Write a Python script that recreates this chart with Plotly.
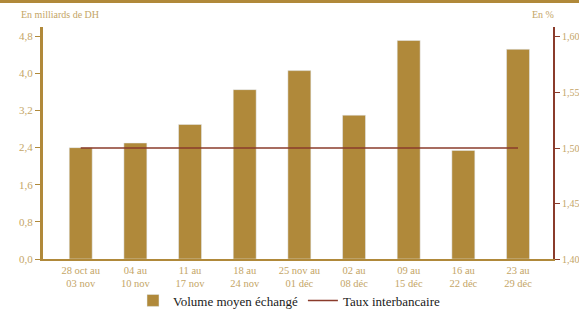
import plotly.graph_objects as go

categories = ["28 oct au<br>03 nov", "04 au<br>10 nov", "11 au<br>17 nov", "18 au<br>24 nov",
              "25 nov au<br>01 déc", "02 au<br>08 déc", "09 au<br>15 déc", "16 au<br>22 déc",
              "23 au<br>29 déc"]
volume = [2.40, 2.50, 2.90, 3.65, 4.06, 3.10, 4.71, 2.34, 4.52]
taux = [1.50, 1.50, 1.50, 1.50, 1.50, 1.50, 1.50, 1.50, 1.50]
left_ticks = [0.0, 0.8, 1.6, 2.4, 3.2, 4.0, 4.8]
left_labels = ["0,0", "0,8", "1,6", "2,4", "3,2", "4,0", "4,8"]
right_ticks = [1.40, 1.45, 1.50, 1.55, 1.60]
right_labels = ["1,40", "1,45", "1,50", "1,55", "1,60"]

GOLD = "#B0893A"
TXT = "#C4A566"
BROWN = "#8A3B2B"
FONT = "Liberation Serif, Times New Roman, serif"

x = list(range(len(categories)))

fig = go.Figure()
fig.add_trace(go.Bar(x=x, y=volume, name="Volume moyen échangé", marker_color=GOLD,
                     width=0.42, yaxis="y"))
fig.add_trace(go.Scatter(x=x, y=taux, name="Taux interbancaire", mode="lines",
                         line=dict(color=BROWN, width=1.5), yaxis="y2"))

fig.update_layout(
    width=579, height=313,
    margin=dict(l=43, r=26, t=27, b=54),
    paper_bgcolor="white", plot_bgcolor="white",
    font=dict(family=FONT, color=TXT, size=10),
    showlegend=True,
    legend=dict(orientation="h", x=0.5, xanchor="center", xref="container",
                y=0.04, yanchor="middle", yref="container", bgcolor="rgba(0,0,0,0)",
                font=dict(family=FONT, color="#1a1a1a", size=13),
                itemwidth=30, tracegroupgap=0),
    xaxis=dict(tickmode="array", tickvals=x, ticktext=categories, range=[-0.69, 8.64],
               showline=True, linecolor=GOLD, linewidth=2, ticks="", showgrid=False,
               zeroline=False, tickfont=dict(size=10.5, color=TXT, family=FONT),
               automargin=False),
    yaxis=dict(range=[0, 5.0], tickmode="array", tickvals=left_ticks, ticktext=left_labels,
               showline=True, linecolor=GOLD, linewidth=3, ticks="outside", ticklen=5,
               tickcolor=GOLD, showgrid=False, zeroline=False, automargin=False,
               tickfont=dict(size=11, color=TXT, family=FONT)),
    yaxis2=dict(range=[1.40, 1.609], overlaying="y", side="right", tickmode="array",
                tickvals=right_ticks, ticktext=right_labels, showline=True, linecolor=BROWN,
                linewidth=2, ticks="outside", ticklen=5, tickcolor=BROWN, showgrid=False,
                zeroline=False, automargin=False, tickfont=dict(size=10, color=TXT, family=FONT)),
    bargap=0.5,
)

fig.add_annotation(text="En milliards de DH", xref="paper", yref="paper", x=-0.047, y=1.0,
                   yshift=5, xanchor="left", yanchor="bottom", showarrow=False,
                   font=dict(size=10, color=TXT, family=FONT))
fig.add_annotation(text="En %", xref="paper", yref="paper", x=1.005, y=1.0, yshift=5,
                   xanchor="right", yanchor="bottom", showarrow=False,
                   font=dict(size=10, color=TXT, family=FONT))
fig.add_shape(type="line", xref="paper", yref="paper", x0=-0.1, x1=1.1, y0=1.11, y1=1.11,
              line=dict(color=GOLD, width=3))

fig.write_html("out.html", config={"displayModeBar": False},
               post_script="document.body.style.margin='0';")
